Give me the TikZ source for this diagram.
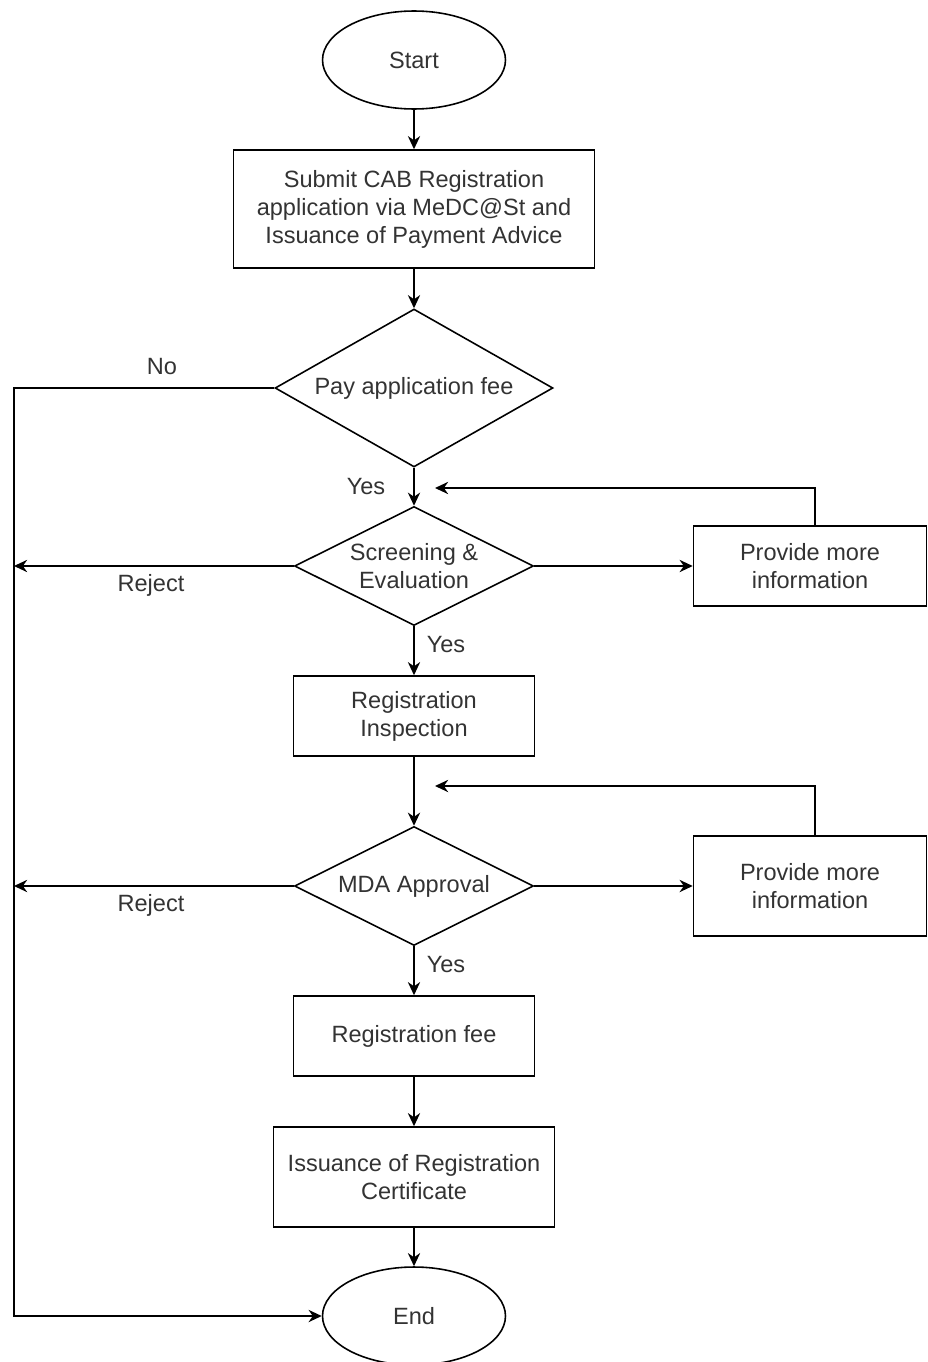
\documentclass[tikz,border=0pt]{standalone}
\usepackage{fontspec}
\setmainfont{Liberation Sans}
\usetikzlibrary{shapes.geometric,arrows.meta}

\tikzset{
  box/.style={draw, rectangle, align=center, inner sep=0pt},
  term/.style={draw, ellipse, inner sep=0pt, minimum width=3.66cm, minimum height=1.96cm},
  choice/.style={draw, diamond, aspect=2, align=center, inner sep=0pt},
  arr/.style={-{Stealth[length=7.5pt,width=7pt]}},
  lbl/.style={inner sep=0pt}
}

\begin{document}
\begin{tikzpicture}[x=0.02cm, y=-0.02cm, line width=0.9pt,
  font=\fontsize{13.4}{15.9}\selectfont, text=black!80]
\useasboundingbox (0,0) rectangle (928,1362);

\node[term] (start) at (414,60) {Start};
\node[box, minimum width=7.22cm, minimum height=2.36cm] (submit) at (414,209)
  {Submit CAB Registration\\application via MeDC@St and\\Issuance of Payment Advice};
\node[choice, minimum width=5.56cm, minimum height=3.16cm] (pay) at (414,388) {Pay application fee};
\node[choice, minimum width=4.78cm, minimum height=2.38cm] (screen) at (414,566) {Screening \&\\Evaluation};
\node[box, minimum width=4.66cm, minimum height=1.6cm] (info1) at (810,566) {Provide more\\information};
\node[box, minimum width=4.82cm, minimum height=1.6cm] (insp) at (414,716) {Registration\\Inspection};
\node[choice, minimum width=4.78cm, minimum height=2.38cm] (mda) at (414,886) {MDA Approval};
\node[box, minimum width=4.66cm, minimum height=2cm] (info2) at (810,886) {Provide more\\information};
\node[box, minimum width=4.82cm, minimum height=1.6cm] (fee) at (414,1036) {Registration fee};
\node[box, minimum width=5.62cm, minimum height=2cm] (cert) at (414,1177) {Issuance of Registration\\Certificate};
\node[term] (end) at (414,1316) {End};

\coordinate (nol) at (14,388);
\coordinate (rej1) at (14,566);
\coordinate (rej2) at (14,886);
\coordinate (back1) at (435,488);
\coordinate (back2) at (435,786);

\node[lbl] (no) at (162,367) {No};
\node[lbl] (yes1) at (366,487) {Yes};
\node[lbl] (reject1) at (151,585) {Reject};
\node[lbl] (yes2) at (446,645) {Yes};
\node[lbl] (reject2) at (151,905) {Reject};
\node[lbl] (yes3) at (446,965) {Yes};

\draw[arr] (start) -- (submit);
\draw[arr] (submit) -- (pay);
\draw[arr] (pay) -- (screen);
\draw[arr] (pay.west) -- (nol) |- (end.west);
\draw[arr] (screen.west) -- (rej1);
\draw[arr] (screen.east) -- (info1.west);
\draw[arr] ([xshift=0.1cm]info1.north) |- (back1);
\draw[arr] (screen) -- (insp);
\draw[arr] (insp) -- (mda);
\draw[arr] (mda.west) -- (rej2);
\draw[arr] (mda.east) -- (info2.west);
\draw[arr] ([xshift=0.1cm]info2.north) |- (back2);
\draw[arr] (mda) -- (fee);
\draw[arr] (fee) -- (cert);
\draw[arr] (cert) -- (end);
\end{tikzpicture}
\end{document}
